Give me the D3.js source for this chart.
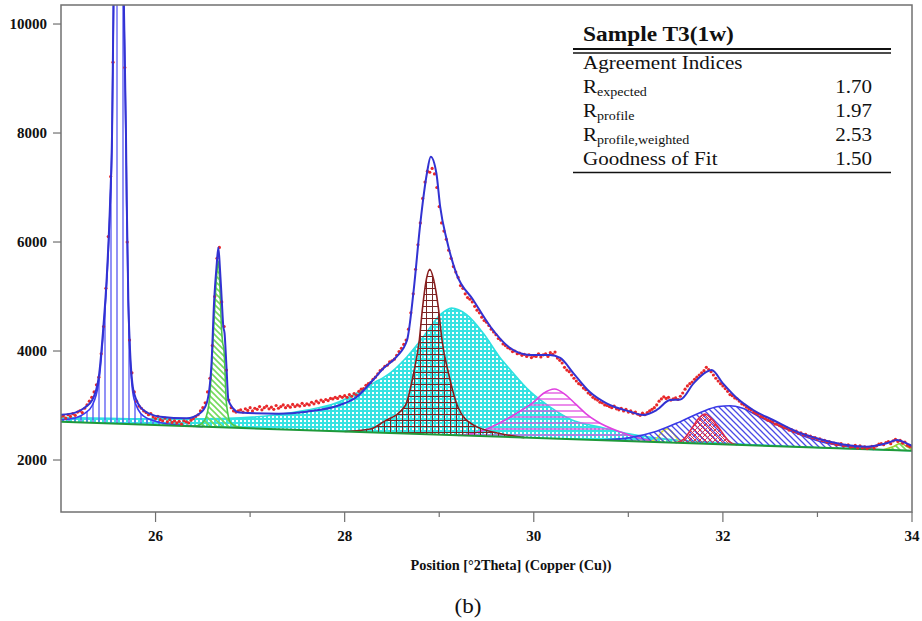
<!DOCTYPE html>
<html>
<head>
<meta charset="utf-8">
<script src="https://cdn.jsdelivr.net/npm/d3@7"></script>
<style>
  body { margin: 0; background: #fff; }
  svg text { font-family: "Liberation Serif", "Times New Roman", serif; fill: #111; }
</style>
</head>
<body>
<div id="chart"></div>
<script>
// Axis ranges and ticks
const xDomain = [25, 34];
const yDomain = [1046, 10349];
const xTickMajor = [26, 28, 30, 32, 34];
const xTickMinor = [27, 29, 31, 33];
const yTicks = [2000, 4000, 6000, 8000, 10000];

// Background line [2theta, counts]
const backgroundLine = [[25, 2700], [34, 2170]];

// Fitted peak components, net counts above background
const peakBlueVert = [[25.0, 40], [25.15, 80], [25.25, 170], [25.33, 320], [25.40, 760], [25.443, 1560], [25.484, 2600], [25.52, 4000], [25.54, 5230], [25.555, 7580], [25.61, 12700], [25.665, 7580], [25.687, 5230], [25.695, 4000], [25.712, 2170], [25.73, 1250], [25.772, 470], [25.87, 160], [26.05, 50], [26.3, 10], [26.5, 0]];
const peakGreen = [[26.40, 0], [26.45, 20], [26.52, 120], [26.57, 500], [26.593, 1100], [26.62, 2000], [26.645, 2750], [26.664, 3050], [26.68, 2600], [26.695, 1900], [26.71, 1550], [26.722, 1450], [26.734, 1050], [26.745, 550], [26.765, 250], [26.79, 100], [26.85, 30], [26.95, 0]];
const peakCyan = [[25.0, 80], [25.5, 95], [26.0, 115], [26.5, 145], [26.9, 185], [27.3, 270], [27.6, 370], [27.9, 510], [28.13, 715], [28.3, 900], [28.48, 1100], [28.66, 1410], [28.83, 1780], [29.01, 2200], [29.13, 2330], [29.29, 2220], [29.47, 1880], [29.64, 1460], [29.75, 1240], [29.96, 850], [30.17, 580], [30.41, 350], [30.7, 240], [31.02, 130], [31.4, 60], [32.0, 25], [33.0, 0], [34.0, 0]];
const peakBrown = [[28.0, 0], [28.27, 60], [28.41, 200], [28.64, 510], [28.73, 1120], [28.79, 1730], [28.825, 2340], [28.865, 2850], [28.90, 3030], [28.94, 2850], [28.99, 2340], [29.03, 1730], [29.10, 1120], [29.20, 510], [29.36, 200], [29.64, 60], [29.9, 0]];
const peakMagenta = [[29.2, 0], [29.35, 40], [29.54, 165], [29.73, 345], [29.87, 500], [29.995, 650], [30.1, 820], [30.22, 910], [30.33, 820], [30.44, 650], [30.55, 480], [30.665, 345], [30.91, 165], [31.12, 60], [31.35, 0]];
const peakYellow = [[31.22, 0], [31.30, 70], [31.36, 200], [31.41, 250], [31.46, 200], [31.52, 70], [31.60, 0]];
const peakBlueDiag = [[30.7, 0], [31.0, 60], [31.3, 200], [31.55, 390], [31.775, 580], [31.95, 690], [32.075, 713], [32.2, 680], [32.41, 510], [32.6, 370], [32.745, 270], [33.06, 100], [33.3, 40], [33.6, 0]];
const peakRed = [[31.5, 0], [31.58, 60], [31.67, 270], [31.75, 470], [31.81, 546], [31.89, 440], [31.97, 270], [32.07, 50], [32.15, 0]];
const peakSmall = [[33.7, 0], [33.8, 60], [33.88, 130], [33.95, 70], [34.0, 30]];

// Calculated profile [2theta, counts]
const fitTotal = [[25.00, 2830], [25.15, 2870], [25.25, 2960], [25.33, 3100], [25.40, 3530], [25.443, 4330], [25.484, 5363], [25.52, 6771], [25.54, 8000], [25.555, 10350], [25.61, 15500], [25.665, 10350], [25.687, 8000], [25.695, 6771], [25.712, 4936], [25.73, 4018], [25.772, 3230], [25.87, 2918], [26.05, 2795], [26.33, 2765], [26.47, 2857], [26.54, 3040], [26.59, 3712], [26.62, 4936], [26.645, 5547], [26.664, 5900], [26.68, 5547], [26.70, 4936], [26.716, 4459], [26.73, 4325], [26.75, 3712], [26.77, 3101], [26.82, 2949], [26.89, 2870], [27.3, 2850], [27.6, 2887], [27.95, 3009], [28.13, 3162], [28.30, 3468], [28.41, 3683], [28.55, 3896], [28.66, 4202], [28.73, 5119], [28.80, 6343], [28.87, 7261], [28.91, 7566], [28.97, 7261], [29.01, 6649], [29.08, 6037], [29.18, 5426], [29.36, 4936], [29.54, 4450], [29.75, 4055], [29.96, 3927], [30.17, 3927], [30.28, 3872], [30.42, 3591], [30.59, 3253], [30.77, 3040], [31.02, 2887], [31.16, 2826], [31.30, 2918], [31.44, 3101], [31.55, 3110], [31.69, 3407], [31.83, 3620], [31.88, 3652], [32.0, 3407], [32.15, 3132], [32.32, 2918], [32.53, 2734], [32.78, 2520], [33.06, 2367], [33.31, 2275], [33.52, 2244], [33.73, 2306], [33.84, 2367], [33.98, 2275], [34.0, 2262]];

// Observed scan, step 0.025 deg from 25.000
const obsStart = 25;
const obsStep = 0.025;
const obsCounts = [
  2790, 2810, 2770, 2830, 2800, 2850, 2820, 2880, 2900, 2870, 2950, 3010, 3080, 3150, 3250, 3380, 3520, 3950, 4450, 5150,
  6100, 7200, 9300, 12500, 14800, 14900, 12000, 9200, 6000, 4200, 3600, 3250, 3080, 2990, 2950, 2900, 2870, 2830, 2850, 2790,
  2760, 2800, 2740, 2720, 2770, 2700, 2740, 2690, 2720, 2680, 2710, 2660, 2720, 2700, 2680, 2730, 2760, 2800, 2830, 2900,
  2960, 3050, 3250, 3500, 4100, 5000, 5700, 5900, 4900, 4450, 3650, 3100, 2960, 2900, 2880, 2900, 2920, 2880, 2940, 2910,
  2960, 2900, 2950, 2930, 2980, 2920, 2960, 2990, 2940, 2970, 2930, 3000, 2950, 2980, 3010, 2960, 3000, 2970, 3020, 2980,
  3010, 2990, 3040, 3000, 3030, 3010, 3060, 3030, 3080, 3050, 3100, 3070, 3110, 3090, 3130, 3120, 3150, 3130, 3170, 3150,
  3180, 3150, 3200, 3170, 3220, 3190, 3260, 3300, 3310, 3370, 3400, 3420, 3480, 3520, 3580, 3640, 3670, 3720, 3740, 3800,
  3820, 3850, 3920, 3990, 4050, 4120, 4200, 4400, 4700, 5050, 5500, 5950, 6350, 6800, 7100, 7300, 7280, 7350, 7250, 7000,
  6650, 6350, 6200, 6050, 5850, 5700, 5550, 5450, 5350, 5200, 5150, 5050, 4980, 4950, 4900, 4820, 4750, 4700, 4620, 4560,
  4530, 4470, 4400, 4350, 4300, 4230, 4200, 4130, 4100, 4060, 4040, 3990, 4000, 3950, 3960, 3920, 3940, 3900, 3930, 3880,
  3910, 3900, 3950, 3890, 3930, 3950, 3900, 3970, 3940, 3980, 3870, 3830, 3780, 3700, 3650, 3620, 3560, 3500, 3450, 3400,
  3380, 3320, 3290, 3230, 3200, 3150, 3120, 3100, 3060, 3050, 3010, 3000, 2980, 2960, 2990, 2940, 2920, 2950, 2900, 2930,
  2880, 2900, 2860, 2880, 2840, 2820, 2860, 2830, 2870, 2900, 2930, 2960, 3010, 3080, 3120, 3160, 3130, 3150, 3100, 3120,
  3140, 3110, 3170, 3230, 3300, 3360, 3400, 3430, 3480, 3520, 3560, 3600, 3640, 3700, 3660, 3620, 3560, 3500, 3450, 3400,
  3360, 3310, 3260, 3200, 3180, 3140, 3120, 3080, 3030, 3010, 2970, 2940, 2920, 2880, 2860, 2840, 2800, 2790, 2760, 2730,
  2720, 2700, 2660, 2660, 2630, 2620, 2590, 2590, 2550, 2560, 2520, 2530, 2490, 2500, 2460, 2470, 2440, 2440, 2410, 2410,
  2380, 2390, 2360, 2360, 2330, 2340, 2310, 2310, 2280, 2290, 2300, 2260, 2270, 2280, 2240, 2250, 2270, 2220, 2260, 2220,
  2240, 2210, 2230, 2250, 2220, 2260, 2290, 2300, 2280, 2320, 2340, 2300, 2350, 2380, 2340, 2360, 2310, 2330, 2270, 2250,
  2240
];

// Agreement table
const tableTitle = 'Sample T3(1w)';
const tableHeader = 'Agreement Indices';
const tableNames = ['R', 'R', 'R', 'Goodness of Fit'];
const tableSubs = ['expected', 'profile', 'profile,weighted', ''];
const tableValues = ['1.70', '1.97', '2.53', '1.50'];

const xTitle = 'Position [°2Theta] (Copper (Cu))';
const panelLabel = '(b)';

class FitPlot {
    constructor(containerId, options = {}) {
        this.containerId = containerId;
        this.options = {
            width: options.width || 922,
            height: options.height || 621,
            left: options.left || 61,
            right: options.right || 912,
            top: options.top || 5,
            bottom: options.bottom || 512
        };

        this.init();
    }

    init() {
        d3.select(`#${this.containerId}`).select('svg').remove();

        this.svg = d3.select(`#${this.containerId}`)
            .append('svg')
            .attr('width', this.options.width)
            .attr('height', this.options.height);

        this.x = d3.scaleLinear().domain(xDomain).range([this.options.left, this.options.right]);
        this.y = d3.scaleLinear().domain(yDomain).range([this.options.bottom, this.options.top]);
        this.bg = d3.scaleLinear()
            .domain(backgroundLine.map(d => d[0]))
            .range(backgroundLine.map(d => d[1]));

        this.definePatterns();
        this.plot = this.svg.append('g').attr('clip-path', 'url(#plotClip)');

        this.drawComponents();
        this.drawBackground();
        this.drawObserved();
        this.drawFit();
        this.drawAxes();
        this.drawTable();
        this.drawLabels();
    }

    definePatterns() {
        const o = this.options;
        const defs = this.svg.append('defs');

        defs.append('clipPath').attr('id', 'plotClip')
            .append('rect')
            .attr('x', o.left).attr('y', o.top)
            .attr('width', o.right - o.left).attr('height', o.bottom - o.top);

        const pattern = (id, size) => defs.append('pattern')
            .attr('id', id)
            .attr('patternUnits', 'userSpaceOnUse')
            .attr('width', size)
            .attr('height', size);

        const diag = 'M0,0L6,6M-1,5L1,7M5,-1L7,1';

        let p = pattern('cyanCheck', 4);
        p.append('rect').attr('width', 4).attr('height', 4).attr('fill', '#36e2e2');
        p.append('rect').attr('width', 2).attr('height', 2).attr('fill', '#ffffff');

        p = pattern('blueVert', 6);
        p.append('path').attr('d', 'M3,0V6').attr('stroke', '#5656f2').attr('stroke-width', 1.3);

        p = pattern('greenDiag', 6);
        p.append('path').attr('d', diag).attr('stroke', '#74da5c').attr('stroke-width', 1.6);

        p = pattern('magentaHoriz', 6);
        p.append('path').attr('d', 'M0,3H6').attr('stroke', '#e04ee0').attr('stroke-width', 1.3);

        p = pattern('yellowDiag', 6);
        p.append('path').attr('d', diag).attr('stroke', '#e6dc3a').attr('stroke-width', 1.4);

        p = pattern('blueDiag', 6);
        p.append('path').attr('d', diag).attr('stroke', '#4a4ae6').attr('stroke-width', 1.3);

        p = pattern('redCross', 5);
        p.append('path').attr('d', 'M0,0L5,5M5,0L0,5').attr('stroke', '#e0304c').attr('stroke-width', 1);

        p = pattern('brownGrid', 6);
        p.append('path').attr('d', 'M0,0.5H6M0.5,0V6').attr('stroke', '#7a2626').attr('stroke-width', 1);
    }

    drawComponents() {
        const components = [
            { data: peakCyan, pattern: 'cyanCheck', stroke: '#2ee0e0' },
            { data: peakBlueVert, pattern: 'blueVert', stroke: '#3a3af0' },
            { data: peakGreen, pattern: 'greenDiag', stroke: '#4cc84c' },
            { data: peakMagenta, pattern: 'magentaHoriz', stroke: '#e040e0' },
            { data: peakYellow, pattern: 'yellowDiag', stroke: '#e2e030' },
            { data: peakBlueDiag, pattern: 'blueDiag', stroke: '#3838e6' },
            { data: peakRed, pattern: 'redCross', stroke: '#e0284a' },
            { data: peakBrown, pattern: 'brownGrid', stroke: '#8a1e1e' },
            { data: peakSmall, pattern: 'greenDiag', stroke: '#9ed032' }
        ];

        const area = d3.area()
            .curve(d3.curveMonotoneX)
            .x(d => this.x(d[0]))
            .y0(d => this.y(this.bg(d[0])))
            .y1(d => this.y(this.bg(d[0]) + d[1]));

        const outline = d3.line()
            .curve(d3.curveMonotoneX)
            .x(d => this.x(d[0]))
            .y(d => this.y(this.bg(d[0]) + d[1]));

        components.forEach(c => {
            this.plot.append('path')
                .datum(c.data)
                .attr('d', area)
                .attr('fill', `url(#${c.pattern})`);

            this.plot.append('path')
                .datum(c.data)
                .attr('d', outline)
                .attr('fill', 'none')
                .attr('stroke', c.stroke)
                .attr('stroke-width', 1.6);
        });
    }

    drawBackground() {
        this.plot.append('line')
            .attr('x1', this.x(backgroundLine[0][0]))
            .attr('y1', this.y(backgroundLine[0][1]))
            .attr('x2', this.x(backgroundLine[1][0]))
            .attr('y2', this.y(backgroundLine[1][1]))
            .attr('stroke', '#1f9a3a')
            .attr('stroke-width', 2);
    }

    drawObserved() {
        this.plot.selectAll('.obs')
            .data(obsCounts)
            .enter()
            .append('circle')
            .attr('class', 'obs')
            .attr('cx', (d, i) => this.x(obsStart + i * obsStep))
            .attr('cy', d => this.y(d))
            .attr('r', 1.6)
            .attr('fill', '#e8282a');
    }

    drawFit() {
        const line = d3.line()
            .curve(d3.curveMonotoneX)
            .x(d => this.x(d[0]))
            .y(d => this.y(d[1]));

        this.plot.append('path')
            .datum(fitTotal)
            .attr('d', line)
            .attr('fill', 'none')
            .attr('stroke', '#3232d2')
            .attr('stroke-width', 2);
    }

    drawAxes() {
        const o = this.options;
        const axisColor = '#707070';

        this.svg.append('rect')
            .attr('x', o.left).attr('y', o.top)
            .attr('width', o.right - o.left).attr('height', o.bottom - o.top)
            .attr('fill', 'none')
            .attr('stroke', axisColor)
            .attr('stroke-width', 1.5);

        // y ticks
        yTicks.forEach(v => {
            const yy = this.y(v);
            this.svg.append('line')
                .attr('x1', o.left - 8).attr('x2', o.left)
                .attr('y1', yy).attr('y2', yy)
                .attr('stroke', axisColor).attr('stroke-width', 1.2);
            this.svg.append('text')
                .attr('x', 47).attr('y', yy + 5)
                .attr('text-anchor', 'end')
                .style('font-size', '15px')
                .style('font-weight', 'bold')
                .text(v);
        });

        // x ticks
        xTickMajor.forEach(v => {
            const xx = this.x(v);
            this.svg.append('line')
                .attr('x1', xx).attr('x2', xx)
                .attr('y1', o.bottom).attr('y2', o.bottom + 10)
                .attr('stroke', axisColor).attr('stroke-width', 1.2);
            this.svg.append('text')
                .attr('x', xx).attr('y', 541)
                .attr('text-anchor', 'middle')
                .style('font-size', '15px')
                .style('font-weight', 'bold')
                .text(v);
        });

        xTickMinor.forEach(v => {
            const xx = this.x(v);
            this.svg.append('line')
                .attr('x1', xx).attr('x2', xx)
                .attr('y1', o.bottom).attr('y2', o.bottom + 5)
                .attr('stroke', axisColor).attr('stroke-width', 1.2);
        });
    }

    stretched(x, y, anchor, size, weight, sx) {
        return this.svg.append('g')
            .attr('transform', `translate(${x},${y}) scale(${sx},1)`)
            .append('text')
            .attr('text-anchor', anchor)
            .style('font-size', `${size}px`)
            .style('font-weight', weight);
    }

    drawTable() {
        const left = 583, right = 872, lineLeft = 573, lineRight = 891;
        const baselines = [93, 117, 141, 165];

        this.stretched(left, 41, 'start', 20, 'bold', 1.17).text(tableTitle);

        this.svg.append('line')
            .attr('x1', lineLeft).attr('x2', lineRight)
            .attr('y1', 49).attr('y2', 49)
            .attr('stroke', '#111').attr('stroke-width', 2);
        this.svg.append('line')
            .attr('x1', lineLeft).attr('x2', lineRight)
            .attr('y1', 53).attr('y2', 53)
            .attr('stroke', '#111').attr('stroke-width', 1.3);

        this.stretched(left, 69, 'start', 18, 'normal', 1.17).text(tableHeader);

        tableNames.forEach((name, i) => {
            const t = this.stretched(left, baselines[i], 'start', 18, 'normal', 1.17);
            t.append('tspan').text(name);
            if (tableSubs[i]) {
                t.append('tspan')
                    .attr('dy', 3)
                    .style('font-size', '12px')
                    .text(tableSubs[i]);
            }
            this.stretched(right, baselines[i], 'end', 18, 'normal', 1.17).text(tableValues[i]);
        });

        this.svg.append('line')
            .attr('x1', lineLeft).attr('x2', lineRight)
            .attr('y1', 172.5).attr('y2', 172.5)
            .attr('stroke', '#111').attr('stroke-width', 1.5);
    }

    drawLabels() {
        this.stretched(511, 570, 'middle', 14, 'bold', 1.02).text(xTitle);
        this.stretched(468, 613, 'middle', 22, 'normal', 1.05).text(panelLabel);
    }
}

const fitPlot = new FitPlot('chart', { width: 922, height: 621 });
</script>
</body>
</html>
